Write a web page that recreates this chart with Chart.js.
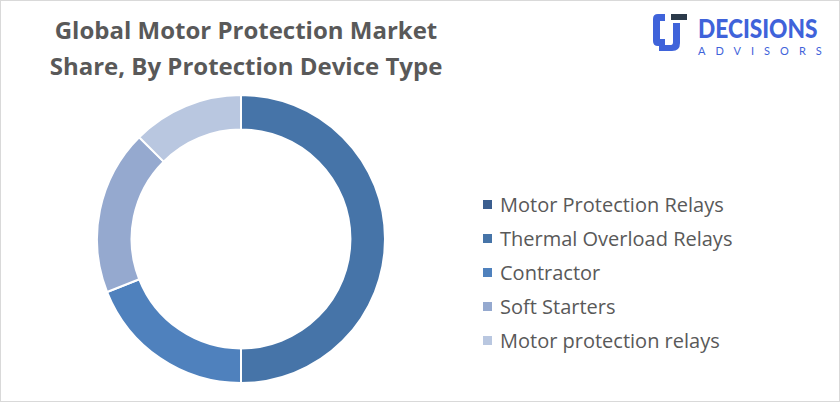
<!DOCTYPE html>
<html>
<head>
<meta charset="utf-8">
<script src="https://cdn.jsdelivr.net/npm/chart.js@4"></script>
<style>
  html, body { margin: 0; padding: 0; background: #fff; }
  #wrap { position: relative; width: 838px; height: 400px; border: 1px solid #d9d9d9; overflow: hidden; font-family: "Open Sans", Lato, sans-serif; }
  #title { position: absolute; left: 0; top: 11px; width: 490px; text-align: center; font-weight: bold; font-size: 24px; line-height: 36px; color: #595959; }
  #donut { position: absolute; left: 95px; top: 93px; }
  #legend { position: absolute; left: 482px; top: 189px; list-style: none; margin: 0; padding: 0; }
  #legend li { height: 34px; line-height: 30px; font-size: 20px; color: #595959; white-space: nowrap; }
  #legend span { display: inline-block; width: 9px; height: 9px; margin-right: 8px; vertical-align: 3px; }
  #logo { position: absolute; left: 650px; top: 10px; }
  #logo .name { position: absolute; left: 47px; top: 0px; font-family: Lato, sans-serif; font-weight: 900; font-size: 27px; color: #3f63da; transform: scaleX(0.84); transform-origin: left top; }
  #logo .sub { position: absolute; left: 47px; top: 33px; font-family: Lato, sans-serif; font-size: 11px; color: #3f63da; letter-spacing: 10px; white-space: nowrap; }
</style>
</head>
<body>
<div id="wrap">
  <div id="title">Global Motor Protection Market<br>Share, By Protection Device Type</div>
  <canvas id="donut" width="290" height="290"></canvas>
  <ul id="legend"></ul>
  <div id="logo">
    <svg width="40" height="42" viewBox="0 0 40 42">
      <path d="M14 3 H7 Q2 3 2 8 V30 Q2 35 7 35 H14 V28 H9 V10 H14 Z" fill="#3f63da"/>
      <rect x="20" y="3" width="16" height="6" fill="#2b3a4a"/>
      <path d="M22 12 H29 V32 Q29 40 21 40 H8 V34 H20 Q22 34 22 31 Z" fill="#3f63da"/>
    </svg>
    <div class="name">DECISIONS</div>
    <div class="sub">ADVISORS</div>
  </div>
</div>
<script>
const categories = ["Motor Protection Relays", "Thermal Overload Relays", "Contractor", "Soft Starters", "Motor protection relays"];
const shares = [0, 50, 19, 18.5, 12.5];
const colors = ["#3b5e8f", "#4674a8", "#4f81bd", "#95a9cf", "#b9c7e0"];

const legend = document.getElementById("legend");
categories.forEach((c, i) => {
  const li = document.createElement("li");
  li.innerHTML = `<span style="background:${colors[i]}"></span>${c}`;
  legend.appendChild(li);
});

new Chart(document.getElementById("donut").getContext("2d"), {
  type: "doughnut",
  data: {
    labels: categories,
    datasets: [{
      data: shares,
      backgroundColor: colors,
      borderColor: "#fff",
      borderWidth: 2
    }]
  },
  options: {
    responsive: false,
    animation: false,
    cutout: "76%",
    layout: { padding: 0 },
    plugins: {
      legend: { display: false },
      tooltip: { enabled: false }
    }
  }
});
</script>
</body>
</html>
